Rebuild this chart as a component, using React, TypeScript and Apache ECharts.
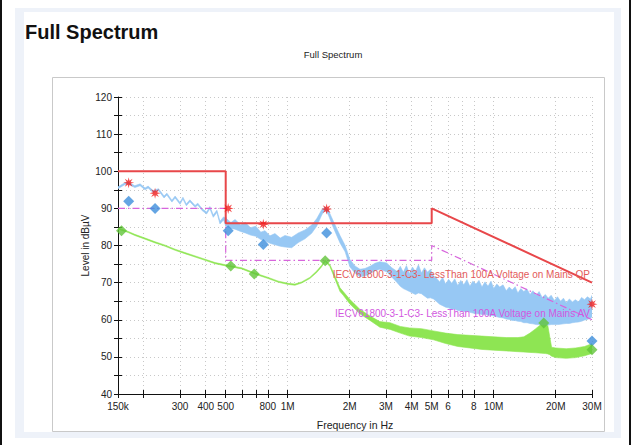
import React, { useEffect, useRef } from "react";
import * as echarts from "echarts";

// ---------- data ----------
const xTickValues = [150000, 200000, 300000, 400000, 500000, 600000, 700000, 800000, 1e6, 2e6, 3e6, 4e6, 5e6, 6e6, 7e6, 8e6, 1e7, 2e7, 3e7];
const xLabelValues = [150000, 300000, 400000, 500000, 800000, 1e6, 2e6, 3e6, 4e6, 5e6, 6e6, 8e6, 1e7, 2e7, 3e7];
const xLabelTexts = ["150k", "300", "400", "500", "800", "1M", "2M", "3M", "4M", "5M", "6", "8", "10M", "20M", "30M"];

// Limit lines (frequency in MHz, level in dBµV)
const qpLimitMHz = [0.15, 0.5, 0.5, 5, 5, 30];
const qpLimitLevel = [100, 100, 86, 86, 90, 70];
const avLimitMHz = [0.15, 0.5, 0.5, 5, 5, 30];
const avLimitLevel = [90, 90, 76, 76, 80, 60];

// Peak trace (blue) envelope
const blueMHz = [0.15, 0.162, 0.168, 0.181, 0.192, 0.203, 0.21, 0.222, 0.236, 0.251, 0.259, 0.274, 0.284, 0.3, 0.31, 0.322, 0.335, 0.355, 0.366, 0.384, 0.404, 0.419, 0.435, 0.453, 0.469, 0.488, 0.5, 0.53, 0.555, 0.59, 0.622, 0.66, 0.7, 0.74, 0.776, 0.82, 0.867, 0.92, 0.97, 1.045, 1.126, 1.213, 1.307, 1.382, 1.462, 1.518, 1.575, 1.666, 1.794, 1.9, 2.005, 2.12, 2.243, 2.37, 2.51, 2.65, 2.8, 3.02, 3.2, 3.4, 3.52, 3.64, 3.77, 3.9, 4.03, 4.17, 4.31, 4.46, 4.61, 4.77, 4.93, 5.1, 5.28, 5.46, 5.65, 5.84, 6.04, 6.25, 6.47, 6.69, 6.92, 7.16, 7.41, 7.66, 7.92, 8.2, 8.48, 8.77, 9.07, 9.38, 9.7, 10.0, 10.35, 10.7, 11.1, 11.5, 11.9, 12.3, 12.7, 13.1, 13.55, 14.0, 14.5, 15.0, 15.5, 16.1, 16.6, 17.2, 17.8, 18.4, 19.0, 19.7, 20.4, 21.1, 21.8, 22.5, 23.3, 24.1, 24.9, 25.8, 26.7, 27.6, 28.5, 29.5, 30];
const blueUpper = [95.8, 96.9, 97.1, 96.1, 96.6, 95.5, 96.0, 94.8, 95.3, 93.3, 94.1, 92.2, 93.3, 91.6, 93.0, 91.2, 92.3, 90.8, 91.4, 89.9, 89.0, 90.5, 88.2, 89.5, 86.5, 87.7, 87.4, 86.2, 87.0, 85.6, 86.2, 84.8, 85.2, 83.6, 84.0, 82.6, 83.2, 82.0, 82.7, 82.2, 83.4, 84.2, 85.5, 87.2, 89.6, 90.4, 89.5, 86.5, 82.7, 80.0, 76.2, 74.5, 73.6, 73.8, 74.4, 75.2, 75.6, 75.3, 74.0, 73.0, 74.4, 72.8, 74.6, 72.4, 74.2, 73.0, 74.8, 72.6, 74.0, 72.8, 73.6, 71.8, 71.2, 70.2, 71.4, 69.6, 70.9, 69.8, 71.0, 69.2, 70.6, 69.4, 70.8, 69.0, 70.4, 69.6, 70.6, 68.8, 70.2, 69.0, 70.4, 68.4, 69.6, 68.8, 69.4, 67.8, 68.8, 68.0, 68.9, 67.2, 68.4, 67.6, 68.3, 66.8, 67.8, 66.6, 67.6, 66.0, 66.8, 65.8, 66.6, 65.2, 66.2, 65.0, 65.8, 64.6, 65.6, 64.8, 65.4, 64.8, 66.0, 65.4, 66.2, 65.6, 66.6];
const blueLower = [95.3, 96.4, 96.6, 95.6, 96.1, 95.0, 95.5, 94.3, 94.8, 92.8, 93.6, 91.7, 92.8, 91.1, 92.5, 90.7, 91.8, 90.3, 90.9, 89.4, 88.5, 89.9, 87.6, 88.9, 85.8, 86.9, 85.2, 84.6, 84.4, 83.8, 83.4, 82.8, 82.5, 81.6, 81.2, 80.6, 80.2, 79.8, 79.6, 79.4, 80.8, 81.8, 83.3, 85.2, 88.2, 89.6, 88.2, 84.8, 80.7, 78.3, 74.2, 72.6, 71.6, 71.8, 72.4, 73.2, 73.6, 72.9, 71.5, 70.0, 69.0, 68.4, 68.0, 67.6, 67.2, 66.8, 67.2, 67.0, 66.4, 65.8, 65.9, 65.6, 64.9, 64.2, 63.8, 63.4, 63.2, 62.8, 62.9, 62.5, 62.4, 62.2, 62.3, 62.0, 61.8, 61.6, 61.6, 61.4, 61.5, 61.2, 61.2, 61.0, 60.8, 60.6, 60.5, 60.2, 60.1, 59.8, 59.8, 59.6, 59.5, 59.2, 59.2, 59.0, 58.9, 58.7, 58.7, 58.6, 58.6, 58.6, 58.7, 58.7, 58.7, 58.8, 58.9, 59.0, 59.0, 59.2, 59.3, 59.4, 59.6, 59.9, 60.1, 60.4, 60.8];

// Average trace (green) envelope
const greenMHz = [0.15, 0.168, 0.181, 0.203, 0.227, 0.254, 0.284, 0.317, 0.355, 0.397, 0.444, 0.5, 0.597, 0.7, 0.804, 0.9, 1.006, 1.084, 1.169, 1.28, 1.382, 1.462, 1.518, 1.6, 1.69, 1.794, 1.86, 2.0, 2.24, 2.51, 2.8, 3.14, 3.52, 3.9, 4.46, 5.1, 5.84, 6.69, 7.66, 8.77, 10.0, 11.5, 13.1, 14.0, 15.0, 16.0, 17.0, 17.8, 18.3, 18.7, 19.1, 20.0, 22.5, 25.0, 27.6, 29.5, 30];
const greenUpper = [84.7, 83.8, 83.0, 82.0, 81.0, 80.1, 79.0, 78.1, 77.2, 76.3, 75.4, 74.8, 74.0, 72.5, 71.4, 70.4, 69.8, 69.6, 70.2, 71.4, 73.1, 74.7, 76.1, 74.9, 72.0, 68.6, 67.6, 65.5, 62.8, 61.0, 59.5, 59.2, 58.2, 57.8, 57.6, 57.0, 56.4, 56.0, 55.8, 55.6, 55.4, 55.2, 55.2, 55.4, 56.4, 57.6, 58.8, 59.6, 58.5, 55.5, 52.6, 52.4, 52.2, 52.4, 52.8, 53.4, 53.6];
const greenLower = [84.4, 83.5, 82.7, 81.7, 80.7, 79.8, 78.7, 77.8, 76.9, 76.0, 75.1, 74.5, 73.7, 72.2, 71.1, 70.1, 69.5, 69.3, 69.9, 71.1, 72.7, 74.3, 75.7, 74.4, 71.2, 67.6, 66.6, 64.3, 61.6, 59.8, 58.0, 57.4, 56.4, 55.6, 55.2, 54.6, 53.6, 52.8, 52.4, 52.0, 51.8, 51.6, 51.4, 51.3, 51.2, 51.1, 51.0, 50.9, 50.8, 50.6, 50.2, 49.8, 49.6, 49.8, 50.3, 50.8, 51.0];

// Final measurement results
const qpMarkMHz = [0.169, 0.227, 0.514, 0.761, 1.545, 30];
const qpMarkLevel = [96.9, 94.1, 90.0, 85.7, 89.8, 64.2];
const qpDiamondMHz = [0.169, 0.227, 0.514, 0.761, 1.545, 30];
const qpDiamondLevel = [91.9, 90.0, 84.0, 80.3, 83.4, 54.3];
const avDiamondMHz = [0.156, 0.529, 0.688, 1.52, 17.5, 30];
const avDiamondLevel = [84.0, 74.5, 72.3, 75.9, 59.1, 51.9];

const qpLegend = "IECV61800-3-1-C3- LessThan 100A Voltage on Mains QP";
const avLegend = "IECV61800-3-1-C3- LessThan 100A Voltage on Mains AV";

// ---------- styles ----------
const FONT = "'Liberation Sans', Arial, Helvetica, sans-serif";
const BLUE = "#97c8f4";
const GREEN = "#8ee553";
const RED = "#e8474a";
const MAGENTA = "#d765dc";
const STAR =
  "path://M20,10 L13.7,11.5 L17.07,17.07 L11.5,13.7 L10,20 L8.5,13.7 L2.93,17.07 L6.3,11.5 L0,10 L6.3,8.5 L2.93,2.93 L8.5,6.3 L10,0 L11.5,6.3 L17.07,2.93 L13.7,8.5 Z";

const pairs = (mhz: number[], vals: number[]) => mhz.map((f, i) => [f * 1e6, vals[i]]);

// Noise band drawn as one polygon through the axes' scales
const bandSeries = (name: string, mhz: number[], up: number[], lo: number[], color: string, z: number) => ({
  name,
  type: "custom",
  coordinateSystem: "cartesian2d",
  data: mhz.map((f, i) => [f * 1e6, lo[i], up[i]]),
  encode: { x: 0, y: [1, 2] },
  clip: true,
  z,
  renderItem: (params: any, api: any) => {
    if (params.dataIndex !== 0) return null;
    const top = mhz.map((f, i) => api.coord([f * 1e6, up[i]]));
    const bottom = mhz.map((f, i) => api.coord([f * 1e6, lo[i]]));
    const poly = top.concat(bottom.slice().reverse());
    return {
      type: "group",
      children: [
        { type: "polygon", shape: { points: poly }, style: { fill: color, stroke: null } },
        { type: "polyline", shape: { points: top }, style: { fill: null, stroke: color, lineWidth: 0.6 } },
        { type: "polyline", shape: { points: bottom }, style: { fill: null, stroke: color, lineWidth: 0.6 } },
      ],
    };
  },
});

export default function App() {
  const ref = useRef<HTMLDivElement>(null);

  useEffect(() => {
    if (!ref.current) return;
    const chart = echarts.init(ref.current, undefined, { renderer: "svg" });

    const xBase = {
      type: "log" as const,
      logBase: 10,
      min: 150000,
      max: 30000000,
      gridIndex: 0,
      position: "bottom" as const,
    };
    const yBase = {
      type: "value" as const,
      min: 40,
      max: 120,
      interval: 5,
      gridIndex: 0,
      position: "left" as const,
    };

    chart.setOption({
      animation: false,
      backgroundColor: "#ffffff",
      textStyle: { fontFamily: FONT },
      grid: { left: 118, right: 39, top: 97, bottom: 51, containLabel: false },
      graphic: [
        { type: "rect", z: -10, silent: true, shape: { x: 0, y: 0, width: 2, height: 445 }, style: { fill: "#111" } },
        { type: "rect", z: -10, silent: true, shape: { x: 629, y: 0, width: 2, height: 445 }, style: { fill: "#111" } },
        { type: "rect", z: -10, silent: true, shape: { x: 15, y: 8, width: 606, height: 430 }, style: { fill: "#eef2f9" } },
        { type: "rect", z: -9, silent: true, shape: { x: 24, y: 12, width: 590, height: 420 }, style: { fill: "#ffffff" } },
        { type: "rect", z: -8, silent: true, shape: { x: 52.5, y: 77.5, width: 552, height: 354 }, style: { fill: "#ffffff", stroke: "#c9c9c9", lineWidth: 1 } },
        { type: "text", z: 10, x: 25, y: 32, style: { text: "Full Spectrum", font: `bold 20px ${FONT}`, fill: "#111", align: "left", verticalAlign: "middle" } },
        { type: "text", z: 10, x: 333, y: 54, style: { text: "Full Spectrum", font: `9.5px ${FONT}`, fill: "#222", align: "center", verticalAlign: "middle" } },
        { type: "text", z: 100, x: 590, y: 274, style: { text: qpLegend, font: `10px ${FONT}`, fill: "#e35a5a", align: "right", verticalAlign: "middle" } },
        { type: "text", z: 100, x: 590, y: 313, style: { text: avLegend, font: `10px ${FONT}`, fill: "#d257e0", align: "right", verticalAlign: "middle" } },
      ],
      xAxis: [
        {
          ...xBase,
          name: "Frequency in Hz",
          nameLocation: "middle",
          nameGap: 25,
          nameMoveOverlap: false,
          nameTextStyle: { fontSize: 10.5, color: "#222", fontFamily: FONT },
          axisLine: { show: true, lineStyle: { color: "#111", width: 1 } },
          axisTick: { show: true, length: 4, customValues: xTickValues, lineStyle: { color: "#111" } },
          axisLabel: {
            customValues: xLabelValues,
            fontSize: 10,
            color: "#222",
            margin: 7,
            formatter: (v: number) => {
              const i = xLabelValues.findIndex((t) => Math.abs(t - v) / t < 1e-6);
              return i >= 0 ? xLabelTexts[i] : "";
            },
          },
          splitLine: { show: true, lineStyle: { color: "#c8c8c8", type: [1, 3], width: 1 } },
          minorTick: { show: false },
        },
        {
          ...xBase,
          axisLine: { show: false },
          axisTick: { show: true, inside: true, length: 4, customValues: xTickValues, lineStyle: { color: "#111" } },
          axisLabel: { show: false },
          splitLine: { show: false },
        },
      ],
      yAxis: [
        {
          ...yBase,
          name: "Level in dBµV",
          nameLocation: "middle",
          nameGap: 28,
          nameMoveOverlap: false,
          nameTextStyle: { fontSize: 10, color: "#222", fontFamily: FONT },
          axisLine: { show: true, lineStyle: { color: "#111", width: 1 } },
          axisTick: { show: true, length: 4, lineStyle: { color: "#111" } },
          axisLabel: {
            fontSize: 10,
            color: "#222",
            margin: 6,
            formatter: (v: number) => (v % 10 === 0 ? String(v) : ""),
          },
          splitLine: { show: true, lineStyle: { color: "#c8c8c8", type: [1, 3], width: 1 } },
        },
        {
          ...yBase,
          axisLine: { show: false },
          axisTick: { show: true, inside: true, length: 4, lineStyle: { color: "#111" } },
          axisLabel: { show: false },
          splitLine: { show: false },
        },
      ],
      series: [
        bandSeries("AV trace", greenMHz, greenUpper, greenLower, GREEN, 2),
        bandSeries("Peak trace", blueMHz, blueUpper, blueLower, BLUE, 3),
        {
          name: "AV limit",
          type: "line",
          data: pairs(avLimitMHz, avLimitLevel),
          symbol: "none",
          lineStyle: { color: MAGENTA, width: 1.2, type: [7, 3, 1.5, 3] },
          z: 5,
        },
        {
          name: "QP limit",
          type: "line",
          data: pairs(qpLimitMHz, qpLimitLevel),
          symbol: "none",
          lineStyle: { color: RED, width: 2 },
          z: 6,
        },
        {
          name: "QP final",
          type: "scatter",
          data: pairs(qpDiamondMHz, qpDiamondLevel),
          symbol: "diamond",
          symbolSize: 11,
          itemStyle: { color: "#3d8fdc" },
          z: 7,
        },
        {
          name: "AV final",
          type: "scatter",
          data: pairs(avDiamondMHz, avDiamondLevel),
          symbol: "diamond",
          symbolSize: 11,
          itemStyle: { color: "#62c43a" },
          z: 7,
        },
        {
          name: "Peak marks",
          type: "scatter",
          data: pairs(qpMarkMHz, qpMarkLevel),
          symbol: STAR,
          symbolSize: 11,
          itemStyle: { color: "#f01c1c" },
          z: 8,
        },
      ],
    });

    return () => chart.dispose();
  }, []);

  return (
    <div
      ref={ref}
      style={{ position: "fixed", left: 0, top: 0, width: 631, height: 445, background: "#fff" }}
    />
  );
}
